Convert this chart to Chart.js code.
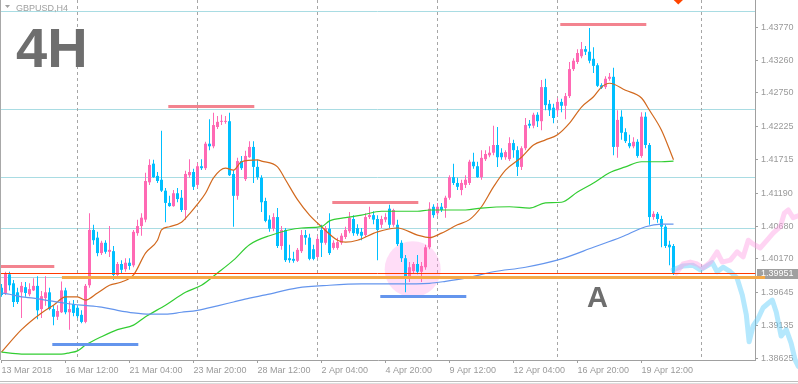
<!DOCTYPE html>
<html>
<head>
<meta charset="utf-8">
<script src="https://cdn.jsdelivr.net/npm/chart.js@4"></script>
<style>
  html, body { margin: 0; padding: 0; background: #fff; }
  #wrap { width: 798px; height: 384px; }
</style>
</head>
<body>
<div id="wrap"><canvas id="myChart" width="798" height="384"></canvas></div>
<script>
// GBPUSD H4 candles (index 0 = 13 Mar 2018)
var openP = [
  1.3972,1.3964,1.3993,1.3979,1.3965,1.3965,1.3973,1.3962,1.3968,1.3975,
  1.3939,1.3956,1.3965,1.3939,1.3927,1.3934,1.3968,1.3934,1.3947,1.3941,
  1.3930,1.3919,1.3976,1.4062,1.4050,1.4026,1.4042,1.4028,1.4029,1.3992,
  1.4009,1.4001,1.4011,1.4007,1.4057,1.4068,1.4078,1.4136,1.4165,1.4146,
  1.4140,1.4123,1.4104,1.4099,1.4119,1.4112,1.4093,1.4147,1.4152,1.4132,
  1.4161,1.4158,1.4196,1.4192,1.4222,1.4230,1.4230,1.4231,1.4149,1.4115,
  1.4169,1.4141,1.4175,1.4191,1.4160,1.4143,1.4107,1.4078,1.4064,1.4082,
  1.4037,1.4062,1.4018,1.4017,1.4014,1.4029,1.4054,1.4050,1.4032,1.4020,
  1.4062,1.4042,1.4064,1.4034,1.4034,1.4042,1.4051,1.4060,1.4079,1.4065,
  1.4059,1.4054,1.4082,1.4085,1.4079,1.4070,1.4078,1.4095,1.4070,1.4070,
  1.4042,1.4018,1.3989,1.3998,1.4009,1.3997,1.4004,1.4035,1.4098,1.4088,
  1.4098,1.4096,1.4112,1.4144,1.4135,1.4124,1.4132,1.4135,1.4168,1.4161,
  1.4144,1.4172,1.4178,1.4182,1.4194,1.4182,1.4175,1.4172,1.4197,1.4186,
  1.4160,1.4189,1.4227,1.4224,1.4241,1.4231,1.4284,1.4258,1.4252,1.4248,
  1.4261,1.4255,1.4270,1.4312,1.4323,1.4332,1.4343,1.4339,1.4328,1.4318,
  1.4287,1.4284,1.4297,1.4300,1.4191,1.4238,1.4214,1.4197,1.4192,1.4199,
  1.4177,1.4238,1.4194,1.4082,1.4087,1.4079,1.4067,1.4039,1.4037
];
var highP = [
  1.3978,1.3997,1.3997,1.3984,1.3972,1.3981,1.3981,1.3979,1.3987,1.3990,
  1.3967,1.3990,1.3972,1.3945,1.3945,1.3982,1.3972,1.3951,1.3953,1.3945,
  1.3937,1.3978,1.4088,1.4070,1.4059,1.4045,1.4046,1.4068,1.4037,1.4012,
  1.4015,1.4018,1.4018,1.4062,1.4078,1.4088,1.4151,1.4172,1.4171,1.4152,
  1.4216,1.4127,1.4115,1.4124,1.4127,1.4124,1.4154,1.4172,1.4157,1.4166,
  1.4172,1.4199,1.4234,1.4244,1.4239,1.4241,1.4239,1.4244,1.4155,1.4174,
  1.4177,1.4185,1.4200,1.4200,1.4171,1.4147,1.4112,1.4085,1.4088,1.4096,
  1.4068,1.4065,1.4039,1.4028,1.4034,1.4062,1.4062,1.4056,1.4039,1.4053,
  1.4070,1.4068,1.4088,1.4046,1.4050,1.4057,1.4067,1.4090,1.4085,1.4071,
  1.4065,1.4088,1.4098,1.4091,1.4085,1.4084,1.4088,1.4101,1.4095,1.4078,
  1.4046,1.4023,1.4012,1.4012,1.4023,1.4012,1.4039,1.4105,1.4102,1.4104,
  1.4104,1.4115,1.4147,1.4165,1.4143,1.4140,1.4147,1.4171,1.4182,1.4168,
  1.4186,1.4186,1.4192,1.4224,1.4222,1.4189,1.4186,1.4206,1.4202,1.4192,
  1.4192,1.4236,1.4233,1.4244,1.4245,1.4295,1.4297,1.4264,1.4258,1.4267,
  1.4266,1.4275,1.4323,1.4329,1.4343,1.4354,1.4348,1.4376,1.4346,1.4321,
  1.4290,1.4301,1.4306,1.4314,1.4248,1.4248,1.4220,1.4210,1.4206,1.4203,
  1.4245,1.4245,1.4197,1.4091,1.4090,1.4084,1.4070,1.4045,1.4040
];
var lowP = [
  1.3958,1.3961,1.3968,1.3942,1.3947,1.3925,1.3958,1.3959,1.3967,1.3923,
  1.3925,1.3944,1.3937,1.3914,1.3922,1.3933,1.3931,1.3907,1.3928,1.3925,
  1.3917,1.3917,1.3972,1.4039,1.4021,1.4023,1.4025,1.4020,1.3984,1.3989,
  1.3995,1.3997,1.4000,1.4004,1.4053,1.4053,1.4074,1.4132,1.4143,1.4135,
  1.4121,1.4074,1.4098,1.4098,1.4105,1.4090,1.4078,1.4143,1.4124,1.4127,
  1.4155,1.4155,1.4186,1.4189,1.4219,1.4225,1.4227,1.4146,1.4067,1.4109,
  1.4155,1.4138,1.4174,1.4135,1.4140,1.4090,1.4074,1.4059,1.4060,1.4034,
  1.4031,1.4012,1.4011,1.4011,1.4012,1.4026,1.4039,1.4015,1.4015,1.4018,
  1.4020,1.4039,1.4023,1.4031,1.4031,1.4039,1.4048,1.4057,1.4053,1.4053,
  1.4046,1.4051,1.4079,1.4071,1.4015,1.4065,1.4074,1.4065,1.4067,1.4037,
  1.4012,1.3965,1.3981,1.3995,1.3993,1.3981,1.4000,1.4032,1.4081,1.4084,
  1.4090,1.4081,1.4109,1.4132,1.4124,1.4116,1.4127,1.4132,1.4157,1.4143,
  1.4140,1.4169,1.4175,1.4178,1.4160,1.4171,1.4171,1.4169,1.4174,1.4146,
  1.4155,1.4186,1.4220,1.4220,1.4222,1.4217,1.4248,1.4239,1.4228,1.4239,
  1.4245,1.4234,1.4267,1.4309,1.4320,1.4329,1.4334,1.4321,1.4306,1.4284,
  1.4281,1.4281,1.4294,1.4178,1.4174,1.4202,1.4197,1.4189,1.4189,1.4174,
  1.4174,1.4189,1.4070,1.4078,1.4073,1.4035,1.4034,1.4007,1.3992
];
var closeP = [
  1.3961,1.3995,1.3976,1.3950,1.3950,1.3975,1.3964,1.3970,1.3975,1.3937,
  1.3959,1.3965,1.3939,1.3927,1.3936,1.3968,1.3934,1.3939,1.3933,1.3928,
  1.3919,1.3975,1.4062,1.4046,1.4026,1.4042,1.4028,1.4031,1.3992,1.4009,
  1.4000,1.4011,1.4006,1.4059,1.4068,1.4081,1.4138,1.4163,1.4144,1.4138,
  1.4123,1.4104,1.4099,1.4119,1.4110,1.4093,1.4149,1.4152,1.4129,1.4161,
  1.4158,1.4196,1.4192,1.4225,1.4230,1.4231,1.4231,1.4147,1.4115,1.4169,
  1.4158,1.4177,1.4191,1.4160,1.4144,1.4105,1.4076,1.4064,1.4082,1.4037,
  1.4062,1.4015,1.4015,1.4014,1.4031,1.4054,1.4050,1.4017,1.4017,1.4048,
  1.4042,1.4065,1.4026,1.4042,1.4043,1.4053,1.4062,1.4081,1.4057,1.4056,
  1.4053,1.4082,1.4085,1.4078,1.4062,1.4079,1.4082,1.4070,1.4093,1.4040,
  1.4018,1.3990,1.4004,1.4009,1.3997,1.4006,1.4035,1.4095,1.4085,1.4098,
  1.4093,1.4112,1.4144,1.4135,1.4129,1.4135,1.4140,1.4168,1.4161,1.4144,
  1.4174,1.4180,1.4182,1.4194,1.4175,1.4175,1.4183,1.4197,1.4186,1.4160,
  1.4189,1.4225,1.4224,1.4241,1.4231,1.4284,1.4256,1.4248,1.4236,1.4261,
  1.4255,1.4270,1.4312,1.4325,1.4337,1.4343,1.4339,1.4325,1.4317,1.4286,
  1.4283,1.4297,1.4300,1.4191,1.4233,1.4213,1.4200,1.4192,1.4199,1.4177,
  1.4238,1.4194,1.4082,1.4087,1.4079,1.4067,1.4037,1.4035,1.3995
];

// moving averages (candle index, price)
var orangeIdx = [0,5,10,13,16,19,21,24,27,30,33,36,39,40,42,45,47,49,51,53,56,58,60,64,65,69,71,74,77,80,84,86,89,94,99,104,107,110,114,117,120,123,126,130,133,136,139,142,145,148,150,152,156,160,162,165,168];
var orangeMA = [1.3872,1.3907,1.3933,1.3945,1.3958,1.3958,1.3953,1.3964,1.3976,1.3981,1.3992,1.4026,1.4046,1.4062,1.4067,1.4074,1.4087,1.4102,1.4119,1.4143,1.4158,1.4155,1.4168,1.4171,1.4169,1.4160,1.4140,1.4109,1.4085,1.4067,1.4046,1.4043,1.4046,1.4059,1.4065,1.4054,1.4050,1.4057,1.4070,1.4078,1.4098,1.4129,1.4155,1.4175,1.4194,1.4202,1.4210,1.4228,1.4253,1.4269,1.4284,1.4290,1.4279,1.4267,1.4248,1.4217,1.4171];
var greenIdx = [0,5,15,17,19,21,25,29,33,36,41,46,50,54,58,62,67,75,80,82,86,90,95,104,107,116,120,127,132,136,140,144,148,152,156,160,165,168];
var greenMA = [1.3872,1.3869,1.3869,1.3871,1.3874,1.3883,1.3896,1.3907,1.3914,1.3927,1.3945,1.3965,1.3976,1.3995,1.4015,1.4039,1.4053,1.4065,1.4067,1.4076,1.4081,1.4085,1.4091,1.4091,1.4093,1.4093,1.4096,1.4098,1.4096,1.4104,1.4105,1.4121,1.4135,1.4151,1.4160,1.4168,1.4168,1.4169];
var blueIdx = [0,2,5,8,11,16,20,25,29,33,37,41,45,49,54,58,62,66,74,82,90,99,107,111,116,123,131,140,148,155,161,165,168];
var blueMA = [1.3964,1.3962,1.3958,1.3956,1.3953,1.3948,1.3945,1.3942,1.3937,1.3933,1.3931,1.3931,1.3934,1.3937,1.3944,1.3950,1.3956,1.3961,1.3972,1.3976,1.3978,1.3978,1.3979,1.3982,1.3987,1.3997,1.4004,1.4017,1.4035,1.4051,1.4067,1.4071,1.4071];

// projected paths drawn after the last candle
var fcPinkIdx = [168.7,170.4,172.2,173.9,175.4,177.2,178.9,180.2,182.2,183.9,185.4,186.7,187.9,189.7,191.4,192.9,194.7,195.7,196.7,197.9,199.2];
var fcPinkVal = [1.3995,1.4009,1.4012,1.4009,1.4003,1.4012,1.4028,1.4012,1.4015,1.4028,1.4020,1.4046,1.4040,1.4034,1.4046,1.4057,1.4067,1.4088,1.4093,1.4081,1.4084];
var fcBlueIdx = [167.9,170.4,172.9,174.7,176.4,177.7,178.9,180.4,182.2,183.9,185.2,186.2,186.9,187.9,189.2,190.4,191.7,192.7,193.7,194.9,196.2,197.4,198.4,199.2];
var fcBlueVal = [1.4000,1.4006,1.4007,1.4000,1.4006,1.4011,1.3997,1.4004,1.3997,1.3987,1.3961,1.3930,1.3888,1.3913,1.3925,1.3941,1.3948,1.3953,1.3934,1.3897,1.3907,1.3886,1.3860,1.3850];

// axes
var yTicks = [1.38625,1.39135,1.39645,1.40170,1.40680,1.41190,1.41715,1.42225,1.42750,1.43260,1.43770];
var xTickIdx = [0,16,32,48,64,80,96,112,128,144,160];
var xTickLabels = ['13 Mar 2018','16 Mar 12:00','21 Mar 04:00','23 Mar 20:00','28 Mar 12:00','2 Apr 04:00','4 Apr 20:00','9 Apr 12:00','12 Apr 04:00','16 Apr 20:00','19 Apr 12:00'];
var sepIdx = [19,49,79,109,139,175];

// drawn levels: [price, fromIdx, toIdx]
var levelLines = [1.44028,1.42500,1.41443,1.40650,1.39888];
var resistSegs = [[1.40064,-0.3,13.2],[1.42551,41.7,63.2],[1.41054,82.7,104.2],[1.43826,139.7,161.2]];
var supportSegs = [[1.38847,12.7,34.2],[1.39593,94.7,116.2]];
var zoneLine = [1.39893,15.1,190.9];
var bidPrice = 1.39951;
var circleAt = [102.8,1.4001];
var arrowAt = [169.2,1.4420];

var PINK = '#FF69B4', SKY = '#00BFFF';
var candleColors = closeP.map(function(c, i) { return c >= openP[i] ? PINK : SKY; });
var wicks = lowP.map(function(l, i) { return {x: i, y: [l, highP[i]]}; });
var bodies = openP.map(function(o, i) {
    return {x: i, y: [Math.min(o, closeP[i]), Math.max(o, closeP[i])]};
});
function pairs(xs, ys) {
    return xs.map(function(x, i) { return {x: x, y: ys[i]}; });
}

Chart.defaults.font.family = "'Liberation Sans', Arial, sans-serif";
Chart.defaults.font.size = 9;

var overlay = {
    id: 'overlay',
    beforeDatasetsDraw: function(chart) {
        var ctx = chart.ctx, a = chart.chartArea, xs = chart.scales.x, ys = chart.scales.y;
        ctx.save();
        // level lines
        ctx.strokeStyle = '#A9DCE3';
        ctx.lineWidth = 1;
        levelLines.forEach(function(v) {
            var y = Math.round(ys.getPixelForValue(v)) + 0.5;
            ctx.beginPath(); ctx.moveTo(a.left - 1, y); ctx.lineTo(a.right, y); ctx.stroke();
        });
        // week separators
        ctx.strokeStyle = '#A6A6A6';
        ctx.setLineDash([3, 3]);
        sepIdx.forEach(function(v) {
            var x = Math.floor(xs.getPixelForValue(v)) + 0.5;
            ctx.beginPath(); ctx.moveTo(x, a.top); ctx.lineTo(x, a.bottom); ctx.stroke();
        });
        ctx.setLineDash([]);
        // highlighted zone
        ctx.fillStyle = 'rgba(255,150,230,0.32)';
        ctx.beginPath();
        ctx.arc(xs.getPixelForValue(circleAt[0]), ys.getPixelForValue(circleAt[1]), 28, 0, Math.PI * 2);
        ctx.fill();
        ctx.restore();
    },
    afterDatasetsDraw: function(chart) {
        var ctx = chart.ctx, a = chart.chartArea, xs = chart.scales.x, ys = chart.scales.y;
        ctx.save();

        // projected paths, allowed to run over the price axis
        function path(ix, vals, color) {
            ctx.strokeStyle = color;
            ctx.lineWidth = 5;
            ctx.lineJoin = 'round';
            ctx.lineCap = 'round';
            ctx.beginPath();
            ix.forEach(function(v, i) {
                var x = xs.getPixelForValue(v), y = ys.getPixelForValue(vals[i]);
                if (i === 0) ctx.moveTo(x, y); else ctx.lineTo(x, y);
            });
            ctx.stroke();
        }
        path(fcBlueIdx, fcBlueVal, 'rgba(90,205,250,0.45)');
        path(fcPinkIdx, fcPinkVal, 'rgba(255,160,228,0.45)');

        function seg(s, color, w) {
            var y = ys.getPixelForValue(s[0]);
            ctx.fillStyle = color;
            var x0 = Math.max(xs.getPixelForValue(s[1]), 0);
            ctx.fillRect(x0, Math.round(y) - 1, xs.getPixelForValue(s[2]) - x0, w);
        }
        resistSegs.forEach(function(s) { seg(s, '#F3838F', 3); });
        supportSegs.forEach(function(s) { seg(s, '#6495ED', 3); });

        // bid line and its label
        var yb = Math.round(ys.getPixelForValue(bidPrice)) + 0.5;
        ctx.strokeStyle = '#FF3A00';
        ctx.lineWidth = 1;
        ctx.beginPath(); ctx.moveTo(0, yb); ctx.lineTo(a.right, yb); ctx.stroke();
        ctx.fillStyle = '#A0A0A0';
        ctx.fillRect(a.right + 2, yb - 4.5, 798 - a.right - 2, 10);
        ctx.fillStyle = '#FFFFFF';
        ctx.font = "9px 'Liberation Sans', Arial, sans-serif";
        ctx.textBaseline = 'middle';
        ctx.fillText(bidPrice.toFixed(5), a.right + 6, yb + 0.5);

        seg(zoneLine, '#F5A947', 3);

        // alert arrow at the top edge
        var ax = xs.getPixelForValue(arrowAt[0]), ay = ys.getPixelForValue(arrowAt[1]);
        ctx.fillStyle = '#FF4500';
        ctx.beginPath();
        ctx.moveTo(ax - 5, ay); ctx.lineTo(ax, ay - 5); ctx.lineTo(ax + 5, ay); ctx.lineTo(ax, ay + 5);
        ctx.closePath(); ctx.fill();

        // captions
        ctx.textBaseline = 'alphabetic';
        ctx.fillStyle = '#6E6E6E';
        ctx.font = "bold 56px 'Liberation Sans', Arial, sans-serif";
        ctx.fillText('4H', 16, 67);
        ctx.font = "bold 29px 'Liberation Sans', Arial, sans-serif";
        ctx.fillText('A', 587, 307);
        ctx.fillStyle = '#A0A0A0';
        ctx.font = "9px 'Liberation Sans', Arial, sans-serif";
        ctx.fillText('GBPUSD,H4', 16, 11);
        ctx.beginPath();
        ctx.moveTo(5, 5); ctx.lineTo(10, 5); ctx.lineTo(7.5, 8); ctx.closePath(); ctx.fill();

        // frame
        ctx.fillStyle = '#A8A8A8';
        ctx.fillRect(0, 0, 1, a.bottom);
        ctx.fillStyle = '#BEBEBE';
        ctx.fillRect(0, 381, 798, 1);
        ctx.fillStyle = '#DCDCDC';
        ctx.fillRect(0, 383, 798, 1);
        ctx.restore();
    }
};

var ctx = document.getElementById('myChart').getContext('2d');
var myChart = new Chart(ctx, {
    type: 'bar',
    data: {
        datasets: [
            { type: 'bar', data: wicks, backgroundColor: candleColors, barThickness: 1,
              grouped: false, borderWidth: 0, inflateAmount: 0, order: 4 },
            { type: 'bar', data: bodies, backgroundColor: candleColors, barThickness: 3,
              grouped: false, borderWidth: 0, inflateAmount: 0, minBarLength: 1, order: 3 },
            { type: 'line', data: pairs(blueIdx, blueMA), borderColor: '#6495ED', borderWidth: 1.2,
              pointRadius: 0, cubicInterpolationMode: 'monotone', order: 2 },
            { type: 'line', data: pairs(greenIdx, greenMA), borderColor: '#32CD32', borderWidth: 1.2,
              pointRadius: 0, cubicInterpolationMode: 'monotone', order: 2 },
            { type: 'line', data: pairs(orangeIdx, orangeMA), borderColor: '#D2691E', borderWidth: 1.2,
              pointRadius: 0, cubicInterpolationMode: 'monotone', order: 2 }
        ]
    },
    options: {
        responsive: false,
        animation: false,
        events: [],
        layout: { padding: { left: 1, right: 0, top: 0, bottom: 0 } },
        plugins: { legend: { display: false }, tooltip: { enabled: false } },
        scales: {
            x: {
                type: 'linear',
                position: 'bottom',
                offset: false,
                min: -0.125,
                max: 188.375,
                grid: { drawOnChartArea: false, drawTicks: true, tickLength: 3, color: '#A0A0A0', offset: false },
                border: { color: '#A0A0A0' },
                ticks: {
                    color: '#9A9A9A', align: 'start', maxRotation: 0, autoSkip: false, padding: 2,
                    callback: function(v, i) { return xTickLabels[i]; }
                },
                afterBuildTicks: function(scale) {
                    scale.ticks = xTickIdx.map(function(v) { return {value: v}; });
                },
                afterFit: function(scale) {
                    scale.height = 24; scale.paddingLeft = 0; scale.paddingRight = 0;
                }
            },
            y: {
                type: 'linear',
                position: 'right',
                min: 1.38598,
                max: 1.44194,
                grid: { drawOnChartArea: false, drawTicks: true, tickLength: 3, color: '#A0A0A0' },
                border: { color: '#A0A0A0' },
                ticks: {
                    color: '#9A9A9A', padding: 3,
                    callback: function(v) { return v.toFixed(5); }
                },
                afterBuildTicks: function(scale) {
                    scale.ticks = yTicks.map(function(v) { return {value: v}; });
                },
                afterFit: function(scale) {
                    scale.width = 43; scale.paddingTop = 0; scale.paddingBottom = 0;
                }
            }
        }
    },
    plugins: [overlay]
});
</script>
</body>
</html>
